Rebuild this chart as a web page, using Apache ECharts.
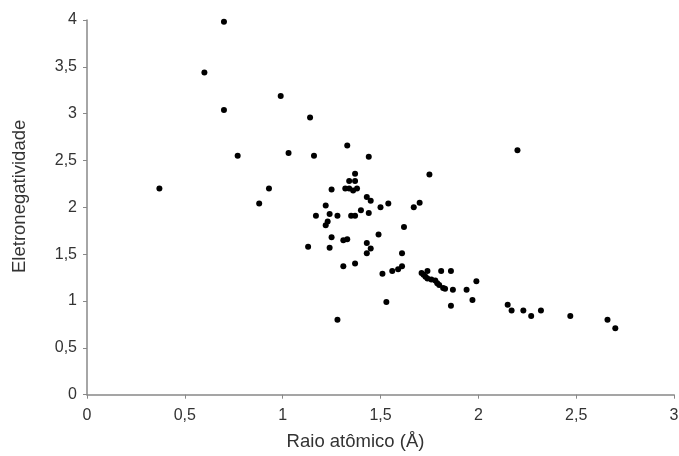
<!DOCTYPE html>
<html>
<head>
<meta charset="utf-8">
<script src="https://cdn.jsdelivr.net/npm/echarts@6/dist/echarts.min.js"></script>
<style>
html,body{margin:0;padding:0;background:#fff;}
#chart{width:679px;height:456px;}
</style>
</head>
<body>
<div id="chart"></div>
<script>
// Raio atômico (Å)
var raioAtomico = [
  0.37, 0.60, 0.70, 0.70, 0.77, 0.88, 0.93, 0.99, 1.03, 1.14,
  1.16, 1.33, 1.44, 1.37, 1.34, 1.37, 1.32, 1.34, 1.36, 1.38,
  1.25, 1.43, 1.45, 1.22, 1.54, 1.50, 1.40, 1.44, 1.17, 1.24,
  1.28, 1.35, 1.37, 1.23, 1.22, 1.67, 1.70, 1.62, 1.25, 1.13,
  1.24, 1.31, 1.33, 1.43, 1.49, 1.45, 1.43, 1.61, 1.31, 1.37,
  1.51, 1.56, 1.59, 1.61, 1.53, 1.28, 1.74, 1.71, 1.72, 1.73,
  1.74, 1.76, 1.78, 1.79, 1.80, 1.82, 1.83, 1.81, 1.86, 1.87,
  1.86, 1.94, 1.99, 1.97, 2.15, 2.17, 2.23, 2.27, 2.32, 2.47,
  2.66, 2.70, 1.75, 2.20
];
// Eletronegatividade
var eletronegatividade = [
  2.20, 3.44, 3.98, 3.04, 2.55, 2.04, 2.20, 3.19, 2.58, 2.96,
  2.55, 2.66, 2.54, 2.36, 2.28, 2.28, 2.20, 2.20, 2.18, 2.20,
  2.19, 2.11, 2.07, 2.02, 2.04, 2.00, 1.97, 1.94, 1.91, 1.93,
  1.91, 1.91, 1.91, 1.85, 1.81, 2.00, 2.05, 1.79, 1.68, 1.58,
  1.57, 1.65, 1.66, 1.62, 1.71, 1.56, 1.51, 1.51, 1.37, 1.40,
  1.29, 1.32, 1.34, 1.37, 0.99, 0.80, 1.32, 1.30, 1.28, 1.26,
  1.24, 1.23, 1.22, 1.19, 1.17, 1.14, 1.13, 1.32, 1.32, 1.12,
  0.95, 1.12, 1.21, 1.01, 0.96, 0.90, 0.90, 0.84, 0.90, 0.84,
  0.80, 0.71, 2.35, 2.61
];
var xTicks = [0, 0.5, 1, 1.5, 2, 2.5, 3];
var yTicks = [0, 0.5, 1, 1.5, 2, 2.5, 3, 3.5, 4];

var points = raioAtomico.map(function (x, i) { return [x, eletronegatividade[i]]; });
function fmt(v) { return String(v).replace('.', ','); }

var chart = echarts.init(document.getElementById('chart'), null, { renderer: 'canvas' });
var font = 'Liberation Sans, Arial, sans-serif';
var axisCommon = {
  axisLine: { show: true, lineStyle: { color: '#888888', width: 1.5 } },
  axisTick: { show: true, length: 4, lineStyle: { color: '#888888', width: 1 } },
  splitLine: { show: false },
  nameLocation: 'middle',
  nameMoveOverlap: false
};
chart.setOption({
  animation: false,
  backgroundColor: '#ffffff',
  grid: { left: 87, right: 5, top: 20, bottom: 61.3, containLabel: false, outerBoundsMode: 'none' },
  xAxis: Object.assign({}, axisCommon, {
    type: 'value',
    min: xTicks[0], max: xTicks[xTicks.length - 1], interval: xTicks[1] - xTicks[0],
    name: 'Raio atômico (Å)',
    nameGap: 38,
    nameTextStyle: { fontFamily: font, fontSize: 18.5, color: '#333333', padding: [0, 50, 0, 0] },
    axisLabel: { fontFamily: font, fontSize: 16, color: '#333333', margin: 13, formatter: fmt, showMaxLabel: true }
  }),
  yAxis: Object.assign({}, axisCommon, {
    type: 'value',
    min: yTicks[0], max: yTicks[yTicks.length - 1], interval: yTicks[1] - yTicks[0],
    name: 'Eletronegatividade',
    nameGap: 58,
    nameTextStyle: { fontFamily: font, fontSize: 18.5, color: '#333333', padding: [0, 0, 0, 22] },
    axisLabel: { fontFamily: font, fontSize: 16, color: '#333333', margin: 10, formatter: fmt }
  }),
  series: [{
    type: 'scatter',
    data: points,
    symbol: 'circle',
    symbolSize: 6,
    itemStyle: { color: '#000000', opacity: 1 }
  }]
});
</script>
</body>
</html>
